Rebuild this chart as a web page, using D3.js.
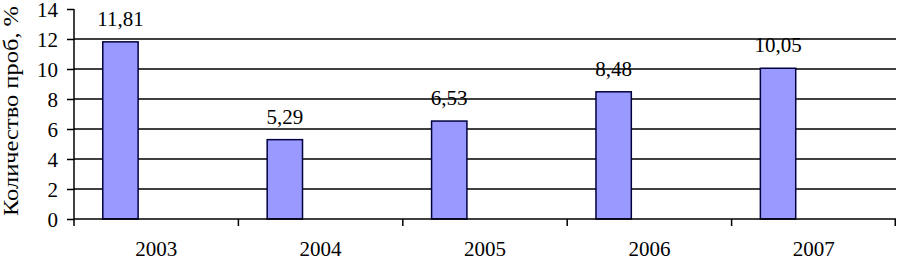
<!DOCTYPE html>
<html>
<head>
<meta charset="utf-8">
<script src="https://cdn.jsdelivr.net/npm/d3@7"></script>
<style>
  body { margin: 0; background: #fff; }
</style>
</head>
<body>
<div id="chart"></div>
<script>
// chart data
const years = ["2003", "2004", "2005", "2006", "2007"];
const values = [11.81, 5.29, 6.53, 8.48, 10.05];
const yTicks = [0, 2, 4, 6, 8, 10, 12, 14];
const yTitle = "Количество проб, %";

const FONT = "'Liberation Serif', 'Times New Roman', serif";

function drawChart() {
    var w = 897;
    var h = 262;
    var margin = {top: 9, right: 1, bottom: 43, left: 74};

    var svg = d3.select("#chart")
                .append("svg")
                .attr("width", w)
                .attr("height", h)
                .style("font-family", FONT);

    //x scale (one band per year)
    var xScale = d3.scaleBand()
                .domain(years)
                .range([margin.left, w - margin.right])
                .padding(0);

    //y scale
    var yScale = d3.scaleLinear()
                .domain([0, 14])
                .range([h - margin.bottom, margin.top]);

    //gridlines (not at 0 and 14)
    svg.append("g")
        .selectAll("line")
        .data(yTicks.filter(d => d > 0 && d < 14))
        .enter()
        .append("line")
        .attr("x1", margin.left)
        .attr("x2", w - margin.right)
        .attr("y1", d => yScale(d))
        .attr("y2", d => yScale(d))
        .attr("stroke", "#000")
        .attr("stroke-width", 1.5);

    //bars - sit left of the band centre like the original
    var bw = xScale.bandwidth();
    svg.selectAll("rect.bar")
        .data(values)
        .enter()
        .append("rect")
        .attr("class", "bar")
        .attr("x", (d, i) => xScale(years[i]) + bw * 0.175)
        .attr("y", d => yScale(d))
        .attr("width", bw * 0.215)
        .attr("height", d => yScale(0) - yScale(d))
        .attr("fill", "#9999ff")
        .attr("stroke", "#000040")
        .attr("stroke-width", 1.5);

    //value labels
    svg.selectAll("text.val")
        .data(values)
        .enter()
        .append("text")
        .attr("class", "val")
        .attr("text-anchor", "middle")
        .attr("x", (d, i) => xScale(years[i]) + bw * 0.175 + bw * 0.215 / 2)
        .attr("y", d => yScale(d) - 16)
        .style("font-family", FONT)
        .style("font-size", "21px")
        .text(d => d3.format(".2f")(d).replace(".", ","));

    //y axis
    var yAxis = d3.axisLeft(yScale)
                .tickValues(yTicks)
                .tickSize(7)
                .tickPadding(9);

    var gy = svg.append("g")
        .attr("transform", "translate(" + margin.left + ",0)")
        .call(yAxis)
        .attr("font-family", null);
    gy.select(".domain").attr("d", "M0," + yScale(14) + "V" + yScale(0)).attr("stroke-width", 1.5);
    gy.selectAll(".tick line").attr("stroke-width", 1.5);
    gy.selectAll(".tick text")
        .style("font-family", FONT)
        .style("font-size", "21px")
        .attr("dy", "0.34em");

    //x axis with ticks on band edges
    var xAxis = d3.axisBottom(xScale).tickSize(0).tickPadding(22);
    var gx = svg.append("g")
        .attr("transform", "translate(0," + yScale(0) + ")")
        .call(xAxis)
        .attr("font-family", null);
    gx.select(".domain").attr("d", "M" + margin.left + ",0H" + (w - margin.right)).attr("stroke-width", 1.5);
    gx.selectAll(".tick text")
        .style("font-family", FONT)
        .style("font-size", "21px")
        .attr("dy", "0.71em");

    //boundary ticks between categories
    var edges = years.map(y => xScale(y)).concat([w - margin.right - 0.75]);
    gx.selectAll("line.edge")
        .data(edges)
        .enter()
        .append("line")
        .attr("class", "edge")
        .attr("x1", d => d)
        .attr("x2", d => d)
        .attr("y1", 0)
        .attr("y2", 7)
        .attr("stroke", "#000")
        .attr("stroke-width", 1.5);

    //y axis title
    svg.append("text")
        .attr("text-anchor", "middle")
        .attr("transform", "translate(18," + 111 + ") rotate(-90)")
        .attr("textLength", 210)
        .attr("lengthAdjust", "spacingAndGlyphs")
        .style("font-family", FONT)
        .style("font-size", "21px")
        .text(yTitle);
}

drawChart();
</script>
</body>
</html>
